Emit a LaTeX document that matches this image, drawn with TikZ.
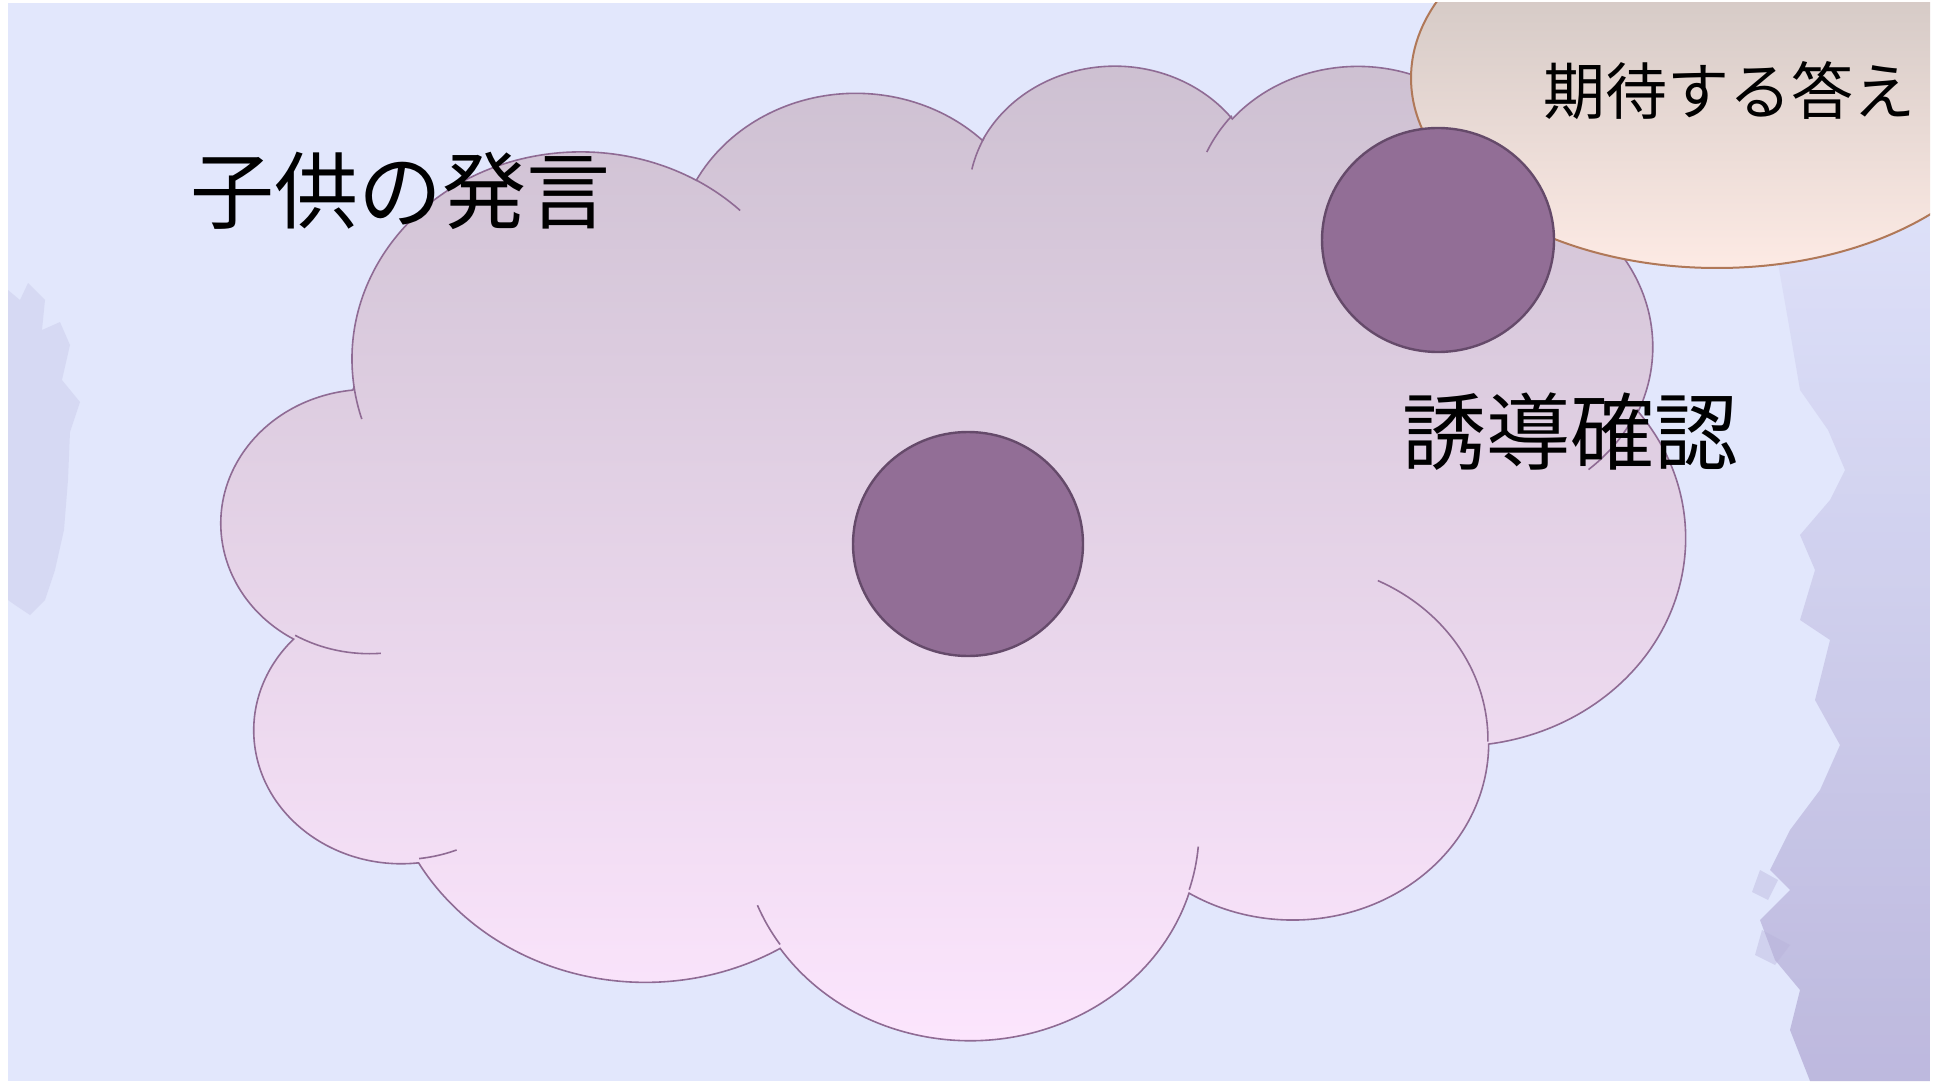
\documentclass[tikz,border=0pt]{standalone}
\usepackage{fontspec}
\newfontfamily\cjk{Noto Sans CJK JP}
\definecolor{slidebg}{HTML}{E2E7FC}
\definecolor{cloudtop}{HTML}{CDC0D1}
\definecolor{cloudbot}{HTML}{FDE6FE}
\definecolor{cloudline}{HTML}{8F6B94}
\definecolor{dotfill}{HTML}{926E96}
\definecolor{dotline}{HTML}{654A6A}
\definecolor{elltop}{HTML}{C6BEBB}
\definecolor{ellbot}{HTML}{FDEAE4}
\definecolor{ellline}{HTML}{B07858}
\definecolor{decotop}{HTML}{DDE0F9}
\definecolor{decomid}{HTML}{CBC9EA}
\definecolor{decobot}{HTML}{B7B1D9}
\definecolor{decoleft}{HTML}{CFD1EE}
% arc in OOXML style: wR hR stAng swAng (visual angles) -> parametric
\newcommand\ooarc[4]{%
  \pgfmathsetmacro\ooA{atan2((#1)*sin(#3),(#2)*cos(#3))}%
  \pgfmathsetmacro\ooB{atan2((#1)*sin((#3)+(#4)),(#2)*cos((#3)+(#4)))}%
  \pgfmathsetmacro\ooD{\ooB-\ooA-360*round((\ooB-\ooA-(#4))/360)}%
  \global\let\ooStart\ooA \global\let\ooDelta\ooD}
\tikzset{
  cloudfill/.style={top color=cloudtop, bottom color=cloudbot, draw=cloudline, line width=1.6pt},
  cloudinner/.style={draw=cloudline, line width=1.6pt},
  dot/.style={fill=dotfill, draw=dotline, line width=2.4pt},
  bigtxt/.style={inner sep=0pt, font=\cjk\fontsize{84}{84}\selectfont},
  midtxt/.style={inner sep=0pt, font=\cjk\fontsize{62}{62}\selectfont}
}
\begin{document}
\begin{tikzpicture}[x=1pt,y=-1pt]
\useasboundingbox (0,0) rectangle (1937,1083);
\fill[white] (0,0) rectangle (1937,1083);
\fill[slidebg] (8,3) rectangle (1930,1081);
\begin{scope}
\clip (8,3) rectangle (1930,1081);
% right brush decoration
\path[top color=decotop, middle color=decomid, bottom color=decobot, opacity=0.85]
  (1930,205) -- (1880,228) -- (1830,240) -- (1790,236) -- (1776,252) -- (1788,320)
  -- (1800,390) -- (1828,430) -- (1845,470) -- (1830,500) -- (1800,535) -- (1815,570)
  -- (1800,620) -- (1830,640) -- (1815,700) -- (1840,745) -- (1820,790) -- (1790,830)
  -- (1770,870) -- (1790,890) -- (1760,920) -- (1775,960) -- (1800,990) -- (1790,1030)
  -- (1810,1081) -- (1930,1081) -- cycle;
\path[fill=decobot, opacity=0.4]
  (1760,870) -- (1778,880) -- (1768,900) -- (1752,892) -- cycle
  (1762,930) -- (1790,945) -- (1775,965) -- (1755,955) -- cycle;
% left brush decoration
\path[fill=decoleft, opacity=0.6]
  (8,290) -- (20,300) -- (28,283) -- (45,300) -- (42,330) -- (60,322) -- (70,345)
  -- (62,380) -- (80,402) -- (70,432) -- (68,480) -- (64,530) -- (55,570) -- (45,600)
  -- (30,615) -- (15,605) -- (8,600) -- cycle;
% cloud
\begin{scope}[shift={(222pt,-63pt)}, x=33.866pt, y=-22.55pt]
\path[cloudfill] (3.900,14.370)
  \pgfextra{\ooarc{6.753}{9.190}{-190.4875}{123.7805}} arc[x radius=6.753, y radius=9.190, start angle=\ooStart, delta angle=\ooDelta]
  \pgfextra{\ooarc{5.333}{7.267}{-144.1024}{89.9452}} arc[x radius=5.333, y radius=7.267, start angle=\ooStart, delta angle=\ooDelta]
  \pgfextra{\ooarc{4.365}{5.945}{-145.8079}{99.7230}} arc[x radius=4.365, y radius=5.945, start angle=\ooStart, delta angle=\ooDelta]
  \pgfextra{\ooarc{4.857}{6.595}{-130.9861}{117.2417}} arc[x radius=4.857, y radius=6.595, start angle=\ooStart, delta angle=\ooDelta]
  \pgfextra{\ooarc{5.333}{7.273}{-78.7089}{109.0269}} arc[x radius=5.333, y radius=7.273, start angle=\ooStart, delta angle=\ooDelta]
  \pgfextra{\ooarc{6.775}{9.220}{-46.2673}{130.2690}} arc[x radius=6.775, y radius=9.220, start angle=\ooStart, delta angle=\ooDelta]
  \pgfextra{\ooarc{5.785}{7.867}{0.6250}{114.0333}} arc[x radius=5.785, y radius=7.867, start angle=\ooStart, delta angle=\ooDelta]
  \pgfextra{\ooarc{6.752}{9.215}{22.4516}{115.1726}} arc[x radius=6.752, y radius=9.215, start angle=\ooStart, delta angle=\ooDelta]
  \pgfextra{\ooarc{7.720}{10.543}{66.2426}{75.7110}} arc[x radius=7.720, y radius=10.543, start angle=\ooStart, delta angle=\ooDelta]
  \pgfextra{\ooarc{4.360}{5.918}{-274.9421}{146.7356}} arc[x radius=4.360, y radius=5.918, start angle=\ooStart, delta angle=\ooDelta]
  \pgfextra{\ooarc{4.345}{5.945}{-246.8285}{152.5189}} arc[x radius=4.345, y radius=5.945, start angle=\ooStart, delta angle=\ooDelta]
  -- cycle;
\path[cloudinner]
  (4.693,26.177) \pgfextra{\ooarc{4.345}{5.945}{86.7420}{26.4295}} arc[x radius=4.345, y radius=5.945, start angle=\ooStart, delta angle=\ooDelta]
  (6.928,34.899) \pgfextra{\ooarc{4.360}{5.918}{73.6105}{11.4475}} arc[x radius=4.360, y radius=5.918, start angle=\ooStart, delta angle=\ooDelta]
  (16.478,39.090) \pgfextra{\ooarc{6.752}{9.215}{137.6242}{14.0811}} arc[x radius=6.752, y radius=9.215, start angle=\ooStart, delta angle=\ooDelta]
  (28.827,34.751) \pgfextra{\ooarc{6.752}{9.215}{6.4533}{15.9984}} arc[x radius=6.752, y radius=9.215, start angle=\ooStart, delta angle=\ooDelta]
  (34.129,22.954) \pgfextra{\ooarc{5.785}{7.867}{-70.2924}{70.9174}} arc[x radius=5.785, y radius=7.867, start angle=\ooStart, delta angle=\ooDelta]
  (41.798,15.354) \pgfextra{\ooarc{5.333}{7.273}{30.3180}{27.7515}} arc[x radius=5.333, y radius=7.273, start angle=\ooStart, delta angle=\ooDelta]
  (38.324,5.426) \pgfextra{\ooarc{4.857}{6.595}{-13.7443}{14.8589}} arc[x radius=4.857, y radius=6.595, start angle=\ooStart, delta angle=\ooDelta]
  (29.078,3.952) \pgfextra{\ooarc{4.857}{6.595}{-149.1815}{18.1954}} arc[x radius=4.857, y radius=6.595, start angle=\ooStart, delta angle=\ooDelta]
  (22.141,4.720) \pgfextra{\ooarc{4.365}{5.945}{-163.4943}{17.6864}} arc[x radius=4.365, y radius=5.945, start angle=\ooStart, delta angle=\ooDelta]
  (14.000,5.192) \pgfextra{\ooarc{6.753}{9.190}{-66.7070}{12.3194}} arc[x radius=6.753, y radius=9.190, start angle=\ooStart, delta angle=\ooDelta]
  (4.127,15.789) \pgfextra{\ooarc{6.753}{9.190}{157.6544}{11.8582}} arc[x radius=6.753, y radius=9.190, start angle=\ooStart, delta angle=\ooDelta];
\end{scope}
% centre dot
\path[dot] (968,544) ellipse [x radius=115, y radius=112];
% expected-answer ellipse
\path[top color=elltop, bottom color=ellbot, draw=ellline, line width=2pt]
  (1717,78) ellipse [x radius=306, y radius=190];
% top-right dot
\path[dot] (1438,240) ellipse [x radius=116, y radius=112];
\end{scope}
\node[bigtxt] (kodomo) at (400,191) {子供の発言};
\node[bigtxt] (yudo) at (1570,432) {誘導確認};
\node[midtxt] (kitai) at (1729,91) {期待する答え};
\end{tikzpicture}
\end{document}
